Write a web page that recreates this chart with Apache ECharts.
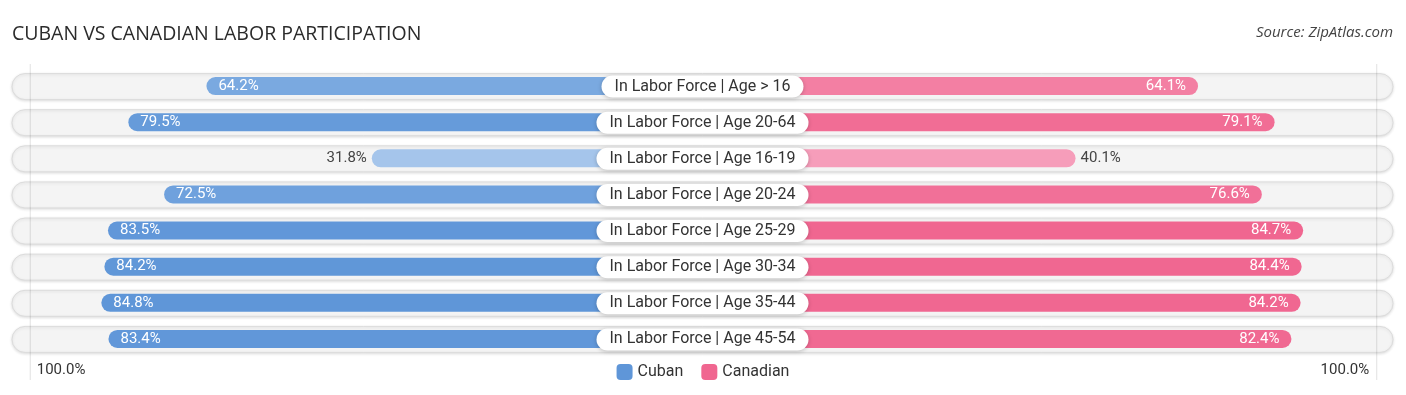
<!DOCTYPE html>
<html>
<head>
<meta charset="utf-8">
<script src="https://cdn.jsdelivr.net/npm/echarts@6/dist/echarts.min.js"></script>
<style>html,body{margin:0;padding:0;background:#fff;}#c{width:1406px;height:395px;}</style>
</head>
<body>
<div id="c"></div>
<script>
const categories = [
  'In Labor Force | Age > 16',
  'In Labor Force | Age 20-64',
  'In Labor Force | Age 16-19',
  'In Labor Force | Age 20-24',
  'In Labor Force | Age 25-29',
  'In Labor Force | Age 30-34',
  'In Labor Force | Age 35-44',
  'In Labor Force | Age 45-54'
];
const cuban = [64.2, 79.5, 31.8, 72.5, 83.5, 84.2, 84.8, 83.4];
const canadian = [64.1, 79.1, 40.1, 76.6, 84.7, 84.4, 84.2, 82.4];
const seriesNames = ['Cuban', 'Canadian'];
const axisEndLabel = '100.0%';

const OFF = 33;      // hidden part of each bar behind the centre label
const MAX = 135.3;   // axis half-extent (incl. row background)
const FULL = 100;

function mix(a, b, t) {
  t = Math.max(0, Math.min(1, t));
  const r = Math.round(a[0] + (b[0] - a[0]) * t);
  const g = Math.round(a[1] + (b[1] - a[1]) * t);
  const bl = Math.round(a[2] + (b[2] - a[2]) * t);
  return 'rgb(' + r + ',' + g + ',' + bl + ')';
}
const BLUE_L = [167, 199, 236], BLUE_D = [95, 150, 216];
const PINK_L = [247, 169, 195], PINK_D = [240, 102, 144];
function shade(v, L, D) { return mix(L, D, (v - 30) / 55); }

function labelFor(v, side) {
  const inside = v > 50;
  return {
    show: true,
    position: side === 'L' ? (inside ? 'insideLeft' : 'left') : (inside ? 'insideRight' : 'right'),
    distance: inside ? 12 : 5,
    color: inside ? '#ffffff' : '#444444',
    fontFamily: 'Roboto',
    fontSize: 15,
    formatter: () => v.toFixed(1) + '%'
  };
}

const chart = echarts.init(document.getElementById('c'), null, { renderer: 'canvas' });

const option = {
  animation: false,
  backgroundColor: '#ffffff',
  title: [
    { text: 'CUBAN VS CANADIAN LABOR PARTICIPATION', left: 12, top: 24, padding: 0,
      textStyle: { fontFamily: 'Open Sans', fontSize: 19.5, fontWeight: 'normal', color: '#2b2b2b' } },
    { text: 'Source: ZipAtlas.com', right: 13, top: 25, padding: 0,
      textStyle: { fontFamily: 'Open Sans', fontSize: 15, fontStyle: 'italic', fontWeight: 'normal', color: '#444' } }
  ],
  legend: {
    data: seriesNames,
    left: 'center', top: 359,
    itemWidth: 16, itemHeight: 16, itemGap: 18,
    icon: 'roundRect',
    textStyle: { fontFamily: 'Roboto', fontSize: 16, color: '#333' }
  },
  grid: { left: 12, right: 13, top: 68, bottom: 38 },
  xAxis: { type: 'value', min: -MAX, max: MAX, show: false },
  yAxis: { type: 'category', data: categories, inverse: true, show: false },
  series: [
    {
      type: 'custom', name: 'bg', silent: true, z: 0,
      data: categories.map((c, i) => [i]),
      encode: { y: 0 },
      renderItem: function (params, api) {
        const i = api.value(0);
        const l = api.coord([-MAX, i]);
        const r = api.coord([MAX, i]);
        const h = 26;
        return {
          type: 'rect',
          shape: { x: l[0], y: l[1] - h / 2 + 0.5, width: r[0] - l[0], height: h, r: h / 2 },
          style: { fill: '#f4f4f4', stroke: '#dcdcdc', lineWidth: 1,
                   shadowBlur: 3, shadowColor: 'rgba(0,0,0,0.12)', shadowOffsetY: 1 }
        };
      }
    },
    {
      type: 'bar', name: seriesNames[0], z: 2,
      barWidth: 18, barGap: '-100%',
      itemStyle: { color: 'rgb(95,150,216)', borderRadius: 9 },
      data: cuban.map(v => ({ value: -(v + OFF), itemStyle: { color: shade(v, BLUE_L, BLUE_D) }, label: labelFor(v, 'L') }))
    },
    {
      type: 'bar', name: seriesNames[1], z: 2,
      barWidth: 18, barGap: '-100%',
      itemStyle: { color: 'rgb(240,102,144)', borderRadius: 9 },
      data: canadian.map(v => ({ value: v + OFF, itemStyle: { color: shade(v, PINK_L, PINK_D) }, label: labelFor(v, 'R') }))
    },
    {
      type: 'custom', name: 'labels', silent: true, z: 5,
      data: categories.map((c, i) => [i]),
      encode: { y: 0 },
      renderItem: function (params, api) {
        const i = api.value(0);
        const c = api.coord([0, i]);
        return {
          type: 'text', x: c[0], y: c[1] + 0.5,
          style: {
            text: categories[i], align: 'center', verticalAlign: 'middle',
            font: '16px Roboto', fill: '#333',
            backgroundColor: '#ffffff', borderRadius: 12, padding: [3, 13, 3, 13],
            shadowBlur: 4, shadowColor: 'rgba(0,0,0,0.22)', shadowOffsetY: 1
          }
        };
      }
    }
  ]
};
chart.setOption(option);

// end-of-scale labels and faint guide lines, positioned from the axis
const xl = chart.convertToPixel({ xAxisIndex: 0 }, -(FULL + OFF));
const xr = chart.convertToPixel({ xAxisIndex: 0 }, FULL + OFF);
chart.setOption({
  graphic: [
    { type: 'line', silent: true, z: 1, shape: { x1: xl + 6.5, y1: 64, x2: xl + 6.5, y2: 380 },
      style: { stroke: 'rgba(0,0,0,0.12)', lineWidth: 1 } },
    { type: 'line', silent: true, z: 1, shape: { x1: xr - 4.5, y1: 64, x2: xr - 4.5, y2: 380 },
      style: { stroke: 'rgba(0,0,0,0.12)', lineWidth: 1 } },
    { type: 'text', x: xl + 13, y: 370, silent: true,
      style: { text: axisEndLabel, font: '15px Roboto', fill: '#333', align: 'left', verticalAlign: 'middle' } },
    { type: 'text', x: xr - 12, y: 370, silent: true,
      style: { text: axisEndLabel, font: '15px Roboto', fill: '#333', align: 'right', verticalAlign: 'middle' } }
  ]
});
</script>
</body>
</html>
